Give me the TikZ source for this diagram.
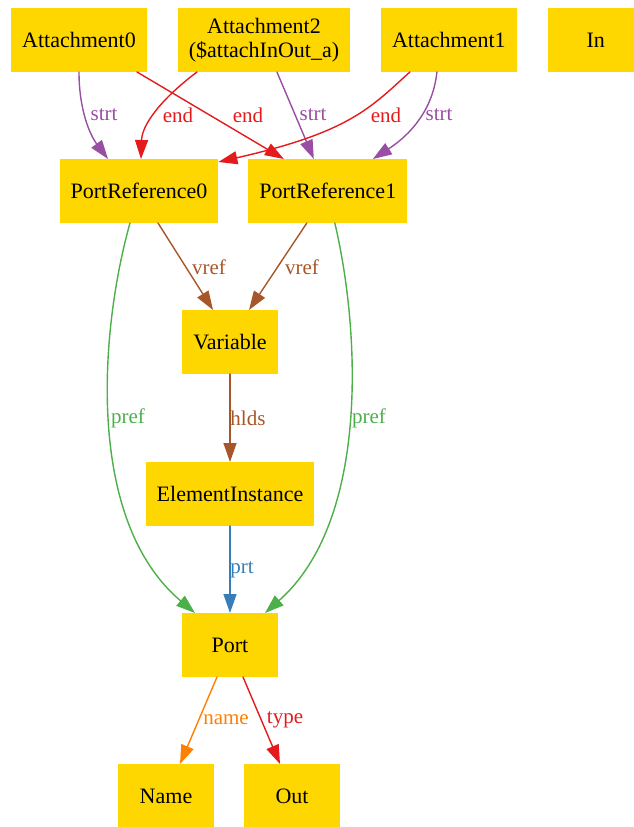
\documentclass[tikz,border=0pt]{standalone}
\usepackage{fontspec}
\setmainfont{Liberation Serif}
\usepackage{tikz}
\usetikzlibrary{arrows.meta,positioning}
\definecolor{gold}{HTML}{FFD700}
\definecolor{strtc}{HTML}{984EA3}
\definecolor{endc}{HTML}{E41A1C}
\definecolor{vrefc}{HTML}{A65628}
\definecolor{prefc}{HTML}{4DAF4A}
\definecolor{prtc}{HTML}{377EB8}
\definecolor{namec}{HTML}{FF7F00}
\tikzset{
    every picture/.style={line cap=round,line join=round},
    cls/.style={fill=gold,draw=none,minimum width=96pt,minimum height=64pt,
      inner xsep=11pt,inner ysep=3pt,outer sep=0pt,
      font=\fontsize{22}{24}\selectfont,align=center},
    relarrow/.style={-{Triangle[length=19pt,width=13pt]},line width=1.4pt},
    strtarr/.style={relarrow,draw=strtc},
    endarr/.style={relarrow,draw=endc},
    vrefarr/.style={relarrow,draw=vrefc},
    prefarr/.style={relarrow,draw=prefc},
    prtarr/.style={relarrow,draw=prtc},
    namearr/.style={relarrow,draw=namec},
    lbl/.style={text=#1,fill=none,inner sep=0pt,font=\fontsize{21}{23}\selectfont}
}
\begin{document}
\begin{tikzpicture}[x=1pt,y=-1pt]
  \useasboundingbox (0,0) rectangle (634,827);
  \node[cls] (att0) at (79,40) {Attachment0};
  \node[cls,right=31pt of att0] (att2) {Attachment2\\(\$attachInOut\_a)};
  \node[cls,right=31pt of att2] (att1) {Attachment1};
  \node[cls,right=31pt of att1] (inp) {In};
  \node[cls,below=87pt of att0,xshift=60pt] (pr0) {PortReference0};
  \node[cls,right=30pt of pr0] (pr1) {PortReference1};
  \node[cls,below=87pt of pr0,xshift=91pt] (var) {Variable};
  \node[cls,below=88pt of var] (elem) {ElementInstance};
  \node[cls,below=87pt of elem] (port) {Port};
  \node[cls,below=87pt of port,xshift=-64pt] (pname) {Name};
  \node[cls,right=30pt of pname] (ptype) {Out};
  \draw[strtarr] (att0.south) .. controls (79,110) and (90,135) .. ([xshift=-31pt]pr0.north)
    node[lbl=strtc] at (104,115) {strt};
  \draw[endarr] ([xshift=58pt]att0.south) -- ([xshift=-44pt]pr1.north)
    node[lbl=endc] at (248,115) {end};
  \draw[endarr] ([xshift=-67pt]att2.south) .. controls (160,100) and (142,125) .. ([xshift=2pt]pr0.north)
    node[lbl=endc] at (178,115) {end};
  \draw[strtarr] ([xshift=13pt]att2.south) -- ([xshift=-14pt]pr1.north)
    node[lbl=strtc] at (313,115) {strt};
  \draw[endarr] ([xshift=-39pt]att1.south) .. controls (370,108) and (350,132) .. ([yshift=-3pt]pr0.north east)
    node[lbl=endc] at (386,115) {end};
  \draw[strtarr] ([xshift=-12pt]att1.south) .. controls (433,110) and (410,135) .. ([xshift=45pt]pr1.north)
    node[lbl=strtc] at (439,115) {strt};
  \draw[vrefarr] ([xshift=19pt]pr0.south) -- ([xshift=-17pt]var.north) node[lbl=vrefc] at (209,267) {vref};
  \draw[vrefarr] ([xshift=-21pt]pr1.south) -- ([xshift=19pt]var.north) node[lbl=vrefc] at (302,267) {vref};
  \draw[vrefarr] (var.south) -- (elem.north) node[lbl=vrefc] at (248,418) {hlds};
  \draw[prefarr] ([xshift=-9pt]pr0.south) .. controls (100,330) and (85,520) .. ([xshift=-35pt]port.north)
    node[lbl=prefc] at (128,418) {pref};
  \draw[prefarr] ([xshift=7pt]pr1.south) .. controls (360,330) and (370,520) .. ([xshift=35pt]port.north)
    node[lbl=prefc] at (369,418) {pref};
  \draw[prtarr] (elem.south) -- (port.north) node[lbl=prtc] at (242,570) {prt};
  \draw[namearr] ([xshift=-13pt]port.south) -- ([xshift=14pt]pname.north) node[lbl=namec] at (226,720) {name};
  \draw[endarr] ([xshift=13pt]port.south) -- ([xshift=-12pt]ptype.north) node[lbl=endc] at (285,720) {type};
\end{tikzpicture}
\end{document}
